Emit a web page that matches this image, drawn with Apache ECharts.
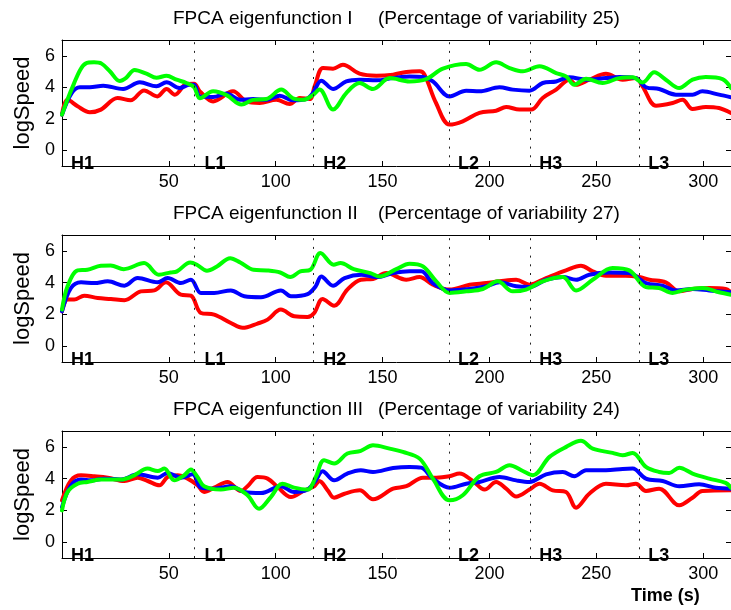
<!DOCTYPE html>
<html><head><meta charset="utf-8">
<script src="https://cdn.jsdelivr.net/npm/echarts@6/dist/echarts.min.js"></script>
<style>html,body{margin:0;padding:0;background:#fff}#c{width:731px;height:610px}</style>
</head><body><div id="c"></div>
<script>
const xTicks = [50, 100, 150, 200, 250, 300];
const yTicks = [0, 2, 4, 6];
const dividers = [62, 117.5, 181, 219, 270];
const phaseNames = ['H1', 'L1', 'H2', 'L2', 'H3', 'L3'];
const phaseLabelX = [4, 66.4, 122, 185, 223, 274];
const titlesLeft = ['FPCA eigenfunction I', 'FPCA eigenfunction II', 'FPCA eigenfunction III'];
const titlesRight = ['(Percentage of variability 25)', '(Percentage of variability 27)', '(Percentage of variability 24)'];

const p1Red = [[0,2.26],[2.6,3.2],[7.3,2.79],[13,2.41],[18.2,2.58],[26,3.32],[32.1,3.17],[38.4,3.8],[44.6,3.42],[48.9,3.89],[52.8,3.53],[58.2,4.2],[61.8,4.22],[64.5,3.74],[70.7,3.1],[80,3.74],[86.3,3.1],[92.5,3.0],[100.3,3.2],[106.5,2.94],[111.2,3.32],[115.9,3.25],[118.2,4.06],[122.1,5.22],[126.8,5.18],[131.4,5.43],[139.2,4.86],[147.1,4.73],[154.9,4.8],[161.1,4.97],[167.3,5.01],[169.6,4.8],[175,3.0],[181.3,1.63],[187.5,1.84],[195.3,2.37],[203.1,2.51],[207.8,2.75],[214,2.58],[219.5,2.58],[224.9,3.32],[231.2,3.85],[237.4,4.48],[240.5,4.16],[246.7,4.48],[254.5,4.86],[262.3,4.48],[268.5,4.58],[271.6,4.06],[277.9,2.83],[285.7,3.0],[290.3,3.2],[295,2.62],[301.2,2.75],[307.4,2.68],[313,2.37]];
const p1Blue = [[0,2.26],[4.5,3.63],[8.4,4.0],[13,4.0],[19.3,4.1],[28.6,3.89],[36.4,4.31],[44.2,4.06],[48.9,4.31],[55,3.95],[59.8,4.16],[61.8,4.16],[64.5,3.42],[70.7,3.38],[77,3.6],[83.2,3.2],[89.4,3.25],[95.6,3.2],[101.9,3.46],[108,3.17],[114.3,3.25],[117.4,3.63],[121.3,4.42],[126.8,3.89],[133,4.37],[139.2,4.48],[147.1,4.44],[154.9,4.58],[162.6,4.69],[168.9,4.65],[173.5,4.37],[181.3,3.42],[189.1,3.78],[195.3,3.74],[204.7,4.0],[210.9,3.85],[218.7,3.78],[224.9,4.27],[231.2,4.37],[237.4,4.63],[245.2,4.48],[254.5,4.58],[260.7,4.65],[268.5,4.58],[273.2,4.0],[279.4,3.89],[287.2,3.53],[295,3.53],[299.6,3.74],[307.4,3.53],[313,3.36]];
const p1Green = [[0,2.26],[2.5,3.2],[5.5,4.2],[8.5,5.1],[11,5.5],[15,5.58],[18.5,5.5],[22.5,5.0],[27,4.4],[30,4.6],[34,5.1],[39.5,4.86],[44.2,4.6],[48.9,4.73],[53.6,4.48],[58.2,4.27],[61.8,4.0],[64.5,3.3],[70.7,3.74],[77,3.5],[84,2.9],[89.4,3.2],[95.6,3.25],[102.6,3.85],[108,3.3],[112.8,3.2],[117.4,3.5],[120.5,3.85],[126.8,2.58],[133,3.63],[139.2,4.27],[145.5,3.89],[153.3,4.58],[162.6,4.37],[170.4,4.52],[178.2,5.18],[189.1,5.47],[195.3,5.11],[203.1,5.58],[209.4,5.22],[215.6,5.01],[223.4,5.33],[231.2,4.9],[235.8,4.69],[239.7,4.16],[245.2,4.54],[252.9,4.27],[260.7,4.58],[267,4.63],[271.6,4.3],[277.1,4.95],[282.5,4.48],[288.8,3.95],[295,4.48],[301.2,4.65],[309,4.52],[313,3.95]];

const p2Red = [[0,2.2],[2.6,2.93],[5.7,2.93],[10.4,3.18],[16.7,3.03],[22.9,2.97],[29.2,2.89],[36.9,3.45],[43.2,3.51],[48.6,4.02],[55.6,3.24],[60.3,3.18],[65,2.09],[71.2,1.99],[79,1.46],[84.5,1.15],[91.5,1.42],[96.2,1.67],[102.4,2.3],[108.7,1.88],[114.9,1.84],[118,2.09],[121.9,2.97],[127.3,2.55],[133.5,3.56],[139.8,4.18],[145.5,4.23],[151.7,4.6],[161.1,4.18],[167.3,4.35],[173.5,3.87],[181.3,3.56],[190.7,3.87],[198.5,3.97],[204.7,4.08],[212.5,4.18],[218.7,3.87],[226.5,4.29],[235.8,4.77],[242.8,5.06],[248.3,4.71],[254.5,4.44],[263.8,4.44],[270.1,4.35],[274.8,4.18],[282.5,4.02],[288.8,3.45],[295,3.6],[302.8,3.66],[310.5,3.6],[313,3.39]];
const p2Blue = [[0,2.2],[4.2,3.66],[8.9,4.02],[15.1,3.97],[21.4,4.08],[29.2,3.81],[35.4,4.29],[44.8,4.02],[49.4,4.29],[55.6,3.97],[60.3,4.18],[65,3.35],[71.2,3.35],[79,3.51],[85.3,3.14],[93.1,3.08],[102.4,3.51],[107.1,3.14],[114.9,3.28],[118.7,3.77],[121.3,4.39],[126.8,3.81],[132.2,4.29],[140,4.5],[147.1,4.35],[154.9,4.6],[162.6,4.71],[168.1,4.71],[173.5,3.97],[181.3,3.51],[190.7,3.6],[198.5,3.77],[204.7,4.02],[212.5,3.77],[218.7,3.72],[226.5,4.18],[234.3,4.35],[240.5,4.18],[246.7,4.5],[256.1,4.64],[265.4,4.6],[273.2,3.97],[281,3.81],[287.2,3.51],[295,3.6],[302.8,3.51],[313,3.39]];
const p2Green = [[0,2.3],[2.6,3.77],[7.3,4.77],[11.9,4.81],[18.2,5.06],[22.8,5.08],[28.9,4.85],[38.4,5.23],[45.3,4.5],[50.8,4.64],[53.8,4.71],[60,5.27],[63.1,5.13],[67.8,4.75],[72.5,5.02],[78.7,5.54],[83.4,5.27],[89.6,4.81],[95.9,4.77],[102.1,4.64],[106.8,4.35],[111.5,4.71],[116.2,4.81],[120.9,5.86],[127.1,5.13],[130.3,5.23],[136.5,4.85],[144.3,4.6],[148.6,4.39],[156.4,4.85],[162.6,5.19],[168.9,5.02],[175.1,4.08],[181.3,3.35],[189.1,3.45],[196.9,3.6],[203.9,4.08],[210.9,3.45],[217.1,3.56],[224.9,4.08],[234.3,4.35],[240.5,3.51],[248.3,4.18],[257.6,4.92],[265.4,4.77],[273.2,3.72],[279.4,3.66],[285.7,3.35],[291.9,3.56],[299.7,3.66],[307.4,3.39],[313,3.24]];

const p3Red = [[0,2.63],[4.2,3.89],[8.9,4.21],[15.1,4.15],[21.4,4.06],[29.2,3.85],[35.4,4.06],[40.1,3.85],[45.6,3.58],[49.4,4.1],[54.1,4.21],[58.8,4.0],[63.4,3.58],[66.5,3.16],[71.2,3.43],[77.4,3.79],[83.7,3.22],[86.8,3.52],[91.5,4.1],[96.2,4.0],[100.9,3.47],[107.1,2.84],[113.4,3.26],[118,3.52],[120.4,3.85],[124.3,3.26],[127.3,2.8],[132.2,3.05],[139.3,3.26],[145.5,2.7],[154.9,3.37],[161.1,3.52],[168.9,4.06],[175.1,4.06],[181.3,4.15],[186,4.32],[192.2,3.85],[197.7,3.31],[203.1,3.79],[207.8,3.37],[212.5,2.88],[218.7,3.31],[223.4,3.68],[229.6,3.26],[235.8,3.16],[240.5,2.17],[246.7,3.05],[254.5,3.68],[263.8,3.58],[268.5,3.68],[273.2,3.22],[279.4,3.37],[288.8,2.32],[295,2.8],[299.6,3.22],[313,3.26]];
const p3Blue = [[0,2.21],[4.2,3.58],[8.9,3.94],[13.6,3.89],[19.8,4.0],[27.6,3.94],[35.4,4.27],[44.8,4.06],[49.4,4.36],[55.6,4.06],[61.1,4.27],[65,3.43],[71.2,3.37],[79,3.52],[85.3,3.16],[93.1,3.09],[102.4,3.52],[108.6,3.16],[114.9,3.31],[118.7,3.89],[121.9,4.46],[127.3,3.89],[133.5,4.32],[139.8,4.53],[145.5,4.42],[154.9,4.67],[162.6,4.74],[168.1,4.69],[173.5,4.0],[181.3,3.43],[189.1,3.68],[195.3,3.79],[204.7,4.1],[212.5,3.89],[218.7,3.79],[226.5,4.27],[234.3,4.42],[239.7,4.15],[245.2,4.53],[254.5,4.53],[262.3,4.61],[267,4.63],[273.2,4.0],[281,3.85],[288.8,3.52],[298.1,3.64],[305.9,3.43],[313,3.37]];
const p3Green = [[0,2.0],[2.6,3.16],[7.3,3.68],[11.9,3.79],[18.2,3.94],[27.6,3.94],[33.8,4.21],[40,4.63],[44.8,4.48],[47.9,4.63],[52.5,3.89],[57.2,4.21],[60.3,4.57],[63.4,4.1],[66.5,3.52],[74.3,3.31],[80.5,3.43],[86.8,2.95],[92.2,2.1],[97.7,2.84],[103.1,3.68],[108.6,3.43],[114.9,3.31],[118.7,4.1],[122.6,5.16],[127.3,4.95],[133.5,5.58],[139.8,5.75],[145.5,6.1],[153.3,5.89],[159.5,5.68],[167.3,5.26],[173.5,4.0],[181.3,2.63],[187.5,2.95],[195.3,4.15],[203.1,4.42],[209.4,4.84],[215.6,4.48],[220.3,4.21],[228.1,5.37],[235.9,6.0],[242.8,6.38],[248.3,5.89],[257.6,5.62],[262.3,5.47],[267,5.62],[273.2,4.74],[279.4,4.42],[284.1,4.36],[288.8,4.69],[295,4.32],[302.8,4.0],[310.5,3.73],[313,3.43]];

const panels = [
  { red: p1Red, blue: p1Blue, green: p1Green },
  { red: p2Red, blue: p2Blue, green: p2Green },
  { red: p3Red, blue: p3Blue, green: p3Green }
];

const FONT = '"Liberation Sans", Arial, Helvetica, sans-serif';
const gridTops = [40, 235, 431];
const gridHeights = [126, 127, 127];
const titleTops = [9, 204, 400];

const option = { animation: false, backgroundColor: '#fff', grid: [], xAxis: [], yAxis: [], series: [], title: [] };

panels.forEach((p, i) => {
  option.grid.push({ left: 62, width: 670, top: gridTops[i], height: gridHeights[i], containLabel: false });
  const axLine = { show: true, onZero: false, lineStyle: { color: '#000', width: 1 } };
  option.xAxis.push({
    type: 'value', gridIndex: i, min: 0, max: 313, position: 'bottom',
    axisLine: axLine, splitLine: { show: false },
    axisTick: { show: true, inside: true, length: 5, customValues: xTicks, lineStyle: { color: '#000' } },
    axisLabel: { show: true, customValues: xTicks, color: '#000', fontSize: 18, fontFamily: FONT, margin: 7 }
  });
  option.xAxis.push({
    type: 'value', gridIndex: i, min: 0, max: 313, position: 'top',
    axisLine: axLine, splitLine: { show: false },
    axisTick: { show: true, inside: true, length: 5, customValues: xTicks, lineStyle: { color: '#000' } },
    axisLabel: { show: false }
  });
  option.yAxis.push({
    type: 'value', gridIndex: i, min: -1, max: 7, position: 'left',
    axisLine: axLine, splitLine: { show: false },
    axisTick: { show: true, inside: true, length: 5, customValues: yTicks, lineStyle: { color: '#000' } },
    axisLabel: { show: true, customValues: yTicks, color: '#000', fontSize: 18, fontFamily: FONT, margin: 7 },
    name: 'logSpeed', nameLocation: 'middle', nameRotate: 90, nameGap: 28,
    nameTextStyle: { color: '#000', fontSize: 22, fontFamily: FONT }
  });
  option.yAxis.push({
    type: 'value', gridIndex: i, min: -1, max: 7, position: 'right',
    axisLine: axLine, splitLine: { show: false },
    axisTick: { show: true, inside: true, length: 5, customValues: yTicks, lineStyle: { color: '#000' } },
    axisLabel: { show: false }
  });
  const xi = 2 * i, yi = 2 * i;
  option.series.push({
    type: 'scatter', xAxisIndex: xi, yAxisIndex: yi, clip: false, silent: true,
    symbol: 'circle', symbolSize: 1, itemStyle: { color: '#000', opacity: 0 },
    data: phaseNames.map((n, k) => ({ name: n, value: [phaseLabelX[k], -1] })),
    label: {
      show: true, formatter: '{b}', position: 'right', distance: 0, align: 'left', verticalAlign: 'bottom',
      offset: [0, 7], color: '#000', opacity: 1, fontSize: 18, fontWeight: 'bold', fontFamily: FONT,
      textBorderWidth: 0, textShadowBlur: 0
    },
    markLine: {
      silent: true, symbol: ['none', 'none'], label: { show: false },
      lineStyle: { color: '#222', width: 1, type: [2, 6.7], opacity: 1 },
      data: dividers.map(d => ({ xAxis: d }))
    },
    z: 1
  });
  [['red', '#ff0000'], ['blue', '#0000ff'], ['green', '#00ff00']].forEach(([k, c]) => {
    option.series.push({
      type: 'line', xAxisIndex: xi, yAxisIndex: yi, data: p[k], showSymbol: false, smooth: 0.35,
      lineStyle: { color: c, width: 4, cap: 'round', join: 'round' }, itemStyle: { color: c }, z: 3
    });
  });
  option.title.push({ text: titlesLeft[i], left: 173, top: titleTops[i], padding: 0,
    textStyle: { color: '#000', fontSize: 19, fontWeight: 'normal', fontFamily: FONT } });
  option.title.push({ text: titlesRight[i], left: 378, top: titleTops[i], padding: 0,
    textStyle: { color: '#000', fontSize: 19, fontWeight: 'normal', fontFamily: FONT } });
});
option.title.push({ text: 'Time (s)', left: 631, top: 587, padding: 0,
  textStyle: { color: '#000', fontSize: 18, fontWeight: 'bold', fontFamily: FONT } });

const chart = echarts.init(document.getElementById('c'), null, { renderer: 'canvas' });
chart.setOption(option);
</script></body></html>
